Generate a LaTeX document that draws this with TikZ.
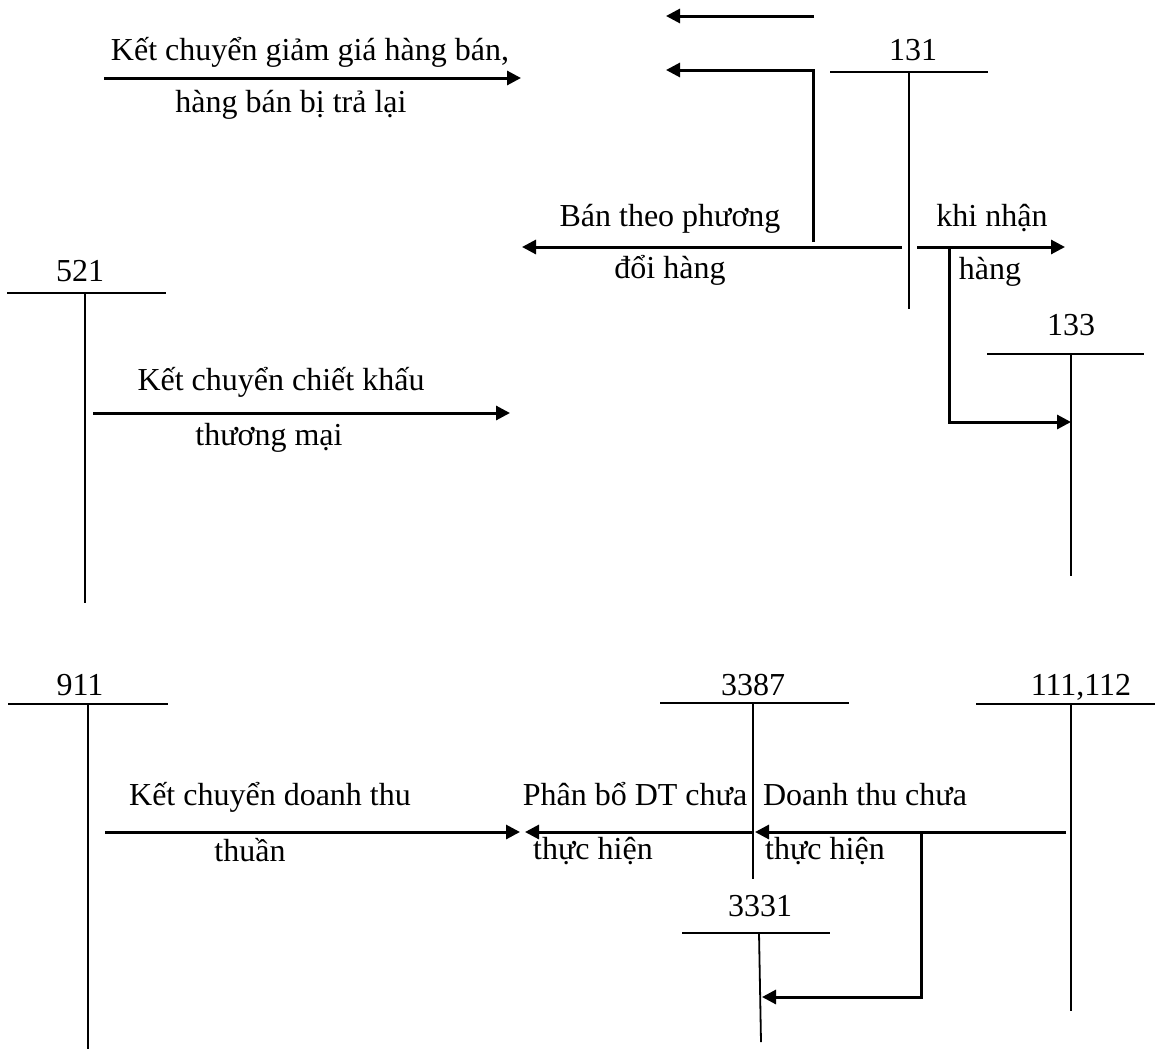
\documentclass[tikz,border=0pt]{standalone}
\usepackage{fontspec}
\setmainfont{Liberation Serif}
\usetikzlibrary{arrows.meta}
\begin{document}
\begin{tikzpicture}[x=0.5pt,y=-0.5pt,
  font=\fontsize{16}{19}\selectfont,
  lbl/.style={anchor=base,inner sep=0pt},
  tline/.style={line width=0.9pt},
  flow/.style={line width=1.5pt,-{Triangle[length=7pt,width=7pt]}},
  feed/.style={line width=1.5pt}]
\useasboundingbox (0,0) rectangle (1155,1049);

% so hieu tai khoan
\node[lbl] (n131) at (913,60) {131};
\node[lbl] (n133) at (1071,335) {133};
\node[lbl] (n521) at (80,281) {521};
\node[lbl] (n911) at (80,695) {911};
\node[lbl] (n3387) at (753,695) {3387};
\node[lbl] (n111) at (1081,695) {111,112};
\node[lbl] (n3331) at (760,916) {3331};

% chu T
\coordinate (t131l) at (830,72);   \coordinate (t131r) at (988,72);
\coordinate (t131t) at (909,72);   \coordinate (t131b) at (909,309);
\coordinate (t133l) at (987,354);  \coordinate (t133r) at (1144,354);
\coordinate (t133t) at (1071,354); \coordinate (t133b) at (1071,576);
\coordinate (t521l) at (7,293);    \coordinate (t521r) at (166,293);
\coordinate (t521t) at (85,293);   \coordinate (t521b) at (85,603);
\coordinate (t911l) at (8,704);    \coordinate (t911r) at (168,704);
\coordinate (t911t) at (88,704);   \coordinate (t911b) at (88,1049);
\coordinate (t3387l) at (660,703); \coordinate (t3387r) at (849,703);
\coordinate (t3387t) at (753,703); \coordinate (t3387b) at (753,879);
\coordinate (t111l) at (976,704);  \coordinate (t111r) at (1155,704);
\coordinate (t111t) at (1071,704); \coordinate (t111b) at (1071,1011);
\coordinate (t3331l) at (682,933); \coordinate (t3331r) at (830,933);
\coordinate (t3331t) at (759,933); \coordinate (t3331b) at (761,1042);

\foreach \a in {131,133,521,911,3387,111,3331}{
  \draw[tline] (t\a l) -- (t\a r);
  \draw[tline] (t\a t) -- (t\a b);
}

% diem dau, diem cuoi cac but toan
\coordinate (a1s) at (814,16);   \coordinate (a1e) at (666,16);
\coordinate (a2s) at (813,242);  \coordinate (a2e) at (666,70);
\coordinate (a3s) at (902,247);  \coordinate (a3e) at (522,247);
\coordinate (a4s) at (917,247);  \coordinate (a4e) at (1065,247);
\coordinate (a5s) at (949,247);  \coordinate (a5e) at (1071,422);
\coordinate (a6s) at (104,78);   \coordinate (a6e) at (521,78);
\coordinate (a7s) at (93,413);   \coordinate (a7e) at (510,413);
\coordinate (a8s) at (105,832);  \coordinate (a8e) at (520,832);
\coordinate (a9s) at (753,832);  \coordinate (a9e) at (525,832);
\coordinate (a10s) at (1066,832); \coordinate (a10e) at (755,832);
\coordinate (a11s) at (921,832); \coordinate (a11e) at (762,997);

\draw[flow] (a1s) -- (a1e);
\draw[flow] (a2s) |- (a2e);
\draw[flow] (a3s) -- (a3e);
\draw[flow] (a4s) -- (a4e);
\draw[flow] (a5s) |- (a5e);
\draw[flow] (a6s) -- (a6e);
\draw[flow] (a7s) -- (a7e);
\draw[flow] (a8s) -- (a8e);
\draw[flow] (a9s) -- (a9e);
\draw[flow] (a10s) -- (a10e);
\draw[flow] (a11s) |- (a11e);

% dien giai
\node[lbl] (l6a) at (310,60) {Kết chuyển giảm giá hàng bán,};
\node[lbl] (l6b) at (291,112) {hàng bán bị trả lại};
\node[lbl] (l3a) at (670,226) {Bán theo phương};
\node[lbl] (l3b) at (670,278) {đổi hàng};
\node[lbl] (l4a) at (992,226) {khi nhận};
\node[lbl] (l4b) at (990,279) {hàng};
\node[lbl] (l7a) at (281,390) {Kết chuyển chiết khấu};
\node[lbl] (l7b) at (269,445) {thương mại};
\node[lbl] (l8a) at (270,805) {Kết chuyển doanh thu};
\node[lbl] (l8b) at (250,861) {thuần};
\node[lbl] (l9a) at (635,805) {Phân bổ DT chưa};
\node[lbl] (l9b) at (593,859) {thực hiện};
\node[lbl] (l10a) at (865,805) {Doanh thu chưa};
\node[lbl] (l10b) at (825,859) {thực hiện};
\end{tikzpicture}
\end{document}
